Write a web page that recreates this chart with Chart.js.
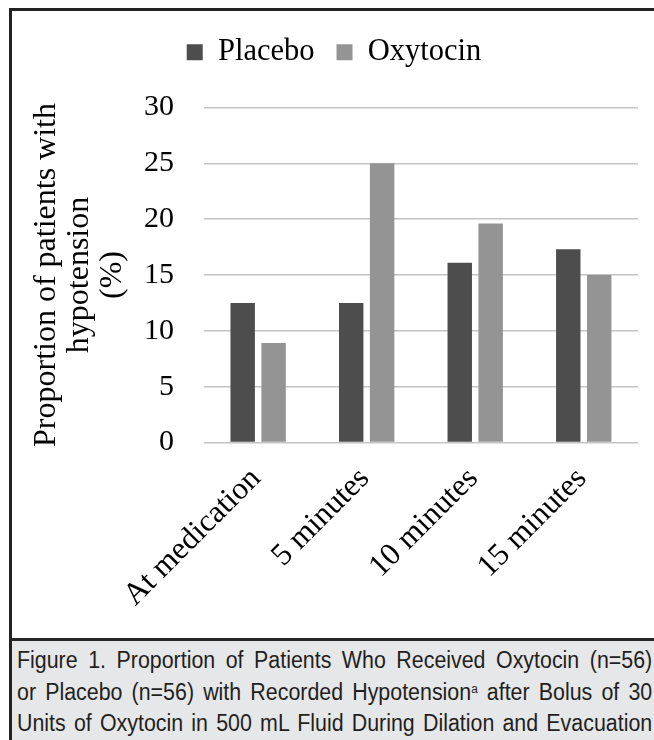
<!DOCTYPE html>
<html>
<head>
<meta charset="utf-8">
<script src="https://cdn.jsdelivr.net/npm/chart.js@4.4.1/dist/chart.umd.min.js"></script>
<style>
  html, body { margin: 0; padding: 0; background: #ffffff; width: 654px; height: 740px; overflow: hidden; }
  #frame { position: absolute; left: 9px; top: 8px; width: 700px; height: 760px; border-left: 3px solid #222; border-top: 3px solid #222; box-sizing: border-box; }
  #chartWrap { position: absolute; left: 12px; top: 11px; width: 642px; height: 627px; }
  #rule { position: absolute; left: 9px; top: 638px; width: 700px; height: 3px; background: #262626; }
  #capBg { position: absolute; left: 12px; top: 641px; width: 700px; height: 120px; background: #e6e7e9; }
  #caption { position: absolute; left: 17px; top: 645px; width: 683px; transform: scaleX(0.93); transform-origin: 0 0;
             font-family: "Liberation Sans", Arial, sans-serif; font-size: 23px; line-height: 31.5px; color: #231f20; }
  #caption div { text-align: justify; text-align-last: justify; }
  #caption sup { font-size: 0.55em; line-height: 0; vertical-align: 0.55em; }
</style>
</head>
<body>
<div id="frame"></div>
<div id="chartWrap"><canvas id="c" width="642" height="627"></canvas></div>
<div id="rule"></div>
<div id="capBg"></div>
<div id="caption">
  <div>Figure 1. Proportion of Patients Who Received Oxytocin (n=56)</div>
  <div>or Placebo (n=56) with Recorded Hypotension<sup>a</sup> after Bolus of 30</div>
  <div>Units of Oxytocin in 500 mL Fluid During Dilation and Evacuation</div>
</div>
<script>
const categories = ["At medication", "5 minutes", "10 minutes", "15 minutes"];
const placebo = [12.5, 12.5, 16.1, 17.3];
const oxytocin = [8.9, 25.0, 19.6, 15.0];
const seriesNames = ["Placebo", "Oxytocin"];
const yTitle = ["Proportion of patients with", "hypotension", "(%)"];

Chart.defaults.font.family = "'Liberation Serif', 'Times New Roman', serif";
Chart.defaults.color = "#000000";

// legend spacing / centring tweaks (extra gap below legend, small horizontal shift)
const legendTweak = {
  id: "legendTweak",
  beforeInit(chart) {
    const lg = chart.legend;
    if (!lg) return;
    const origFit = lg.fit.bind(lg);
    lg.fit = function () { origFit(); this.height += 30; };
    const origDraw = lg.draw.bind(lg);
    lg.draw = function () {
      const ctx = chart.ctx;
      ctx.save(); ctx.translate(9, 0); origDraw(); ctx.restore();
    };
  }
};

new Chart(document.getElementById("c"), {
  type: "bar",
  data: {
    labels: categories,
    datasets: [
      { label: seriesNames[0], data: placebo, backgroundColor: "#4d4d4d", categoryPercentage: 0.57, barPercentage: 0.79 },
      { label: seriesNames[1], data: oxytocin, backgroundColor: "#949494", categoryPercentage: 0.57, barPercentage: 0.79 }
    ]
  },
  plugins: [legendTweak],
  options: {
    responsive: false,
    animation: false,
    layout: { padding: { left: 0, right: 16, top: 4, bottom: 14 } },
    plugins: {
      legend: {
        position: "top",
        labels: { boxWidth: 16, boxHeight: 16, padding: 22, font: { size: 30.5 }, color: "#000" }
      },
      tooltip: { enabled: false }
    },
    scales: {
      x: {
        grid: { display: false },
        border: { display: false },
        ticks: { minRotation: 45, maxRotation: 45, padding: 10, font: { size: 31.5 }, color: "#000", labelOffset: -2 },
        afterFit(scale) { scale.paddingLeft = 0; scale.paddingRight = 0; }
      },
      y: {
        min: 0, max: 30,
        border: { display: false },
        grid: { color: "#c4c4c4", lineWidth: 1.5, drawTicks: false },
        ticks: { stepSize: 5, padding: 30, font: { size: 30 }, color: "#000" },
        title: { display: true, text: yTitle, font: { size: 32, lineHeight: 1.03 }, padding: { top: 18, bottom: 15 }, color: "#000" },
        afterFit(scale) { scale.width -= 30; }
      }
    }
  }
});
</script>
</body>
</html>
